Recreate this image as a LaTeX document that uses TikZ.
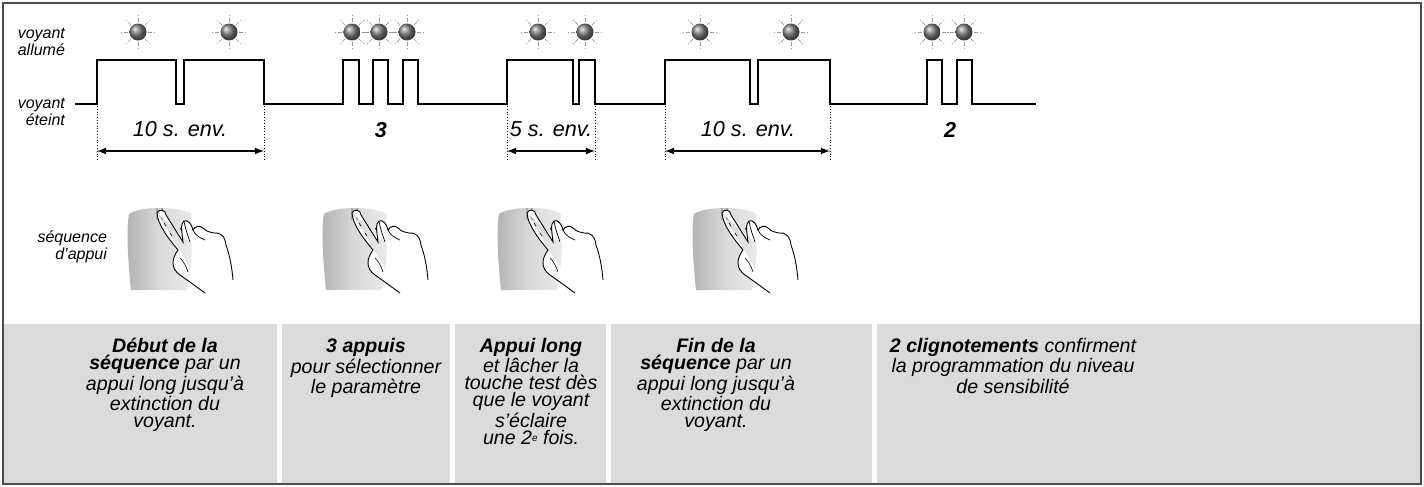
\documentclass[tikz,border=0pt]{standalone}
\usepackage{fontspec}
\setmainfont{Liberation Sans}
\begin{document}
\begin{tikzpicture}[x=0.5pt,y=-0.5pt,
  lbl/.style={font=\itshape\fontsize{8}{8.3}\selectfont, align=right, anchor=east},
  dur/.style={font=\itshape\fontsize{10.8}{11}\selectfont},
  num/.style={font=\bfseries\itshape\fontsize{10.8}{11}\selectfont},
  txt/.style={font=\itshape\fontsize{9.8}{8.5}\selectfont, align=center, anchor=north, inner sep=0pt},
  wave/.style={line width=0.7pt},
  dim/.style={line width=0.6pt, latex-latex, >=latex},
  guide/.style={densely dotted, line width=0.4pt},
  col/.style={fill=black!14, draw=none}]
\useasboundingbox (0,0) rectangle (1424,487);
% frame
\fill[white] (0,0) rectangle (1424,487);
\fill[col] (4,324) rectangle (277,483);
\fill[col] (282,324) rectangle (450,483);
\fill[col] (455,324) rectangle (606,483);
\fill[col] (611,324) rectangle (872,483);
\fill[col] (877,324) rectangle (1420,483);
\draw[black!70, line width=0.7pt] (3,3) rectangle (1421,484);
% labels
\node[lbl] (l1) at (72,42) {voyant\\allumé};
\node[lbl] (l2) at (72,112) {voyant\\éteint};
\node[lbl] (l3) at (114,247) {séquence\\d’appui};
% waveform
\draw[wave] (75,104) -- (97,104) |- (176,60) |- (184,104) |- (264,60) |- (343,104)
  |- (359,60) |- (373,104) |- (388,60) |- (403,104) |- (418,60) |- (507,104)
  |- (573,60) |- (579,104) |- (595,60) |- (665,104) |- (750,60) |- (758,104)
  |- (830,60) |- (927,104) |- (942,60) |- (957,104) |- (972,60) |- (1036,104);
% LEDs
\foreach \x in {138,229,352,379,407,538,585,700,791,932,964}{
  \foreach \a in {0,45,...,315}
    \draw[black!40, dash pattern=on 2pt off 1pt, line width=0.35pt] (\x,32) ++(\a:-10) -- ++(\a:-7);
  \shade[ball color=black!50] (\x,32) circle (8.5);
}
% dimension guides
\foreach \x in {97,264,507,595,665,830}
  \draw[guide] (\x,106) -- (\x,160);
\coordinate (a1) at (97,151); \coordinate (b1) at (264,151);
\coordinate (a2) at (507,151); \coordinate (b2) at (595,151);
\coordinate (a3) at (665,151); \coordinate (b3) at (830,151);
\draw[dim] (a1) -- (b1);
\draw[dim] (a2) -- (b2);
\draw[dim] (a3) -- (b3);
\node[dur] (d1) at (180,129) {10 s. env.};
\node[dur] (d2) at (551,129) {5 s. env.};
\node[dur] (d3) at (748,129) {10 s. env.};
\node[num] (n3) at (381,130) {3};
\node[num] (n2) at (950,130) {2};
% devices with hands
\foreach \d in {0,195,370,565}{
  \begin{scope}[xshift=\d*0.5pt]
    \shade[left color=black!30, right color=black!8, middle color=black!15]
      (131,290) .. controls (128,260) and (126,230) .. (129,214)
      .. controls (140,206) and (180,206) .. (191,214)
      .. controls (193,240) and (192,265) .. (187,290) -- cycle;
    \fill[black!35] (156,208) rectangle (163,220);
    \fill[black!18] (158,208) rectangle (161,220);
    \draw[fill=white, line width=0.45pt]
      (157,213) .. controls (159,208) and (166,210) .. (166,215)
      -- (183,242) .. controls (182,232) and (180,224) .. (184,221)
      .. controls (188,219) and (192,225) .. (193,230)
      .. controls (195,226) and (200,225) .. (203,228)
      .. controls (207,232) and (210,232) .. (214,233)
      .. controls (220,232) and (225,236) .. (226,245)
      .. controls (230,256) and (232,268) .. (233,280);
    \draw[fill=white, line width=0.45pt]
      (157,213) .. controls (158,225) and (168,238) .. (178,250)
      .. controls (172,258) and (170,268) .. (180,275)
      .. controls (190,282) and (198,288) .. (205,293);
    \draw[line width=0.35pt] (184,221) .. controls (185,228) and (188,236) .. (190,242);
    \draw[line width=0.35pt] (193,230) .. controls (195,235) and (200,238) .. (205,240);
    \draw[line width=0.3pt] (164,223) -- (166,226) (170,233) -- (172,236) (180,228) -- (182,231);
    \draw[line width=0.3pt] (180,258) .. controls (184,262) and (186,266) .. (188,272);
  \end{scope}
}
% bottom texts
\node[txt] (t1) at (165,338) {\textbf{Début de la}\\\textbf{séquence} par un\\appui long jusqu’à\\extinction du\\voyant.};
\node[txt] (t2) at (366,338) {\textbf{3 appuis}\\pour sélectionner\\le paramètre};
\node[txt] (t3) at (531,338) {\textbf{Appui long}\\et lâcher la\\touche test dès\\que le voyant\\s'éclaire\\une 2{\fontsize{5}{5}\selectfont\raisebox{0.55ex}{e}} fois.};
\node[txt] (t4) at (716,338) {\textbf{Fin de la}\\\textbf{séquence} par un\\appui long jusqu’à\\extinction du\\voyant.};
\node[txt] (t5) at (1013,338) {\textbf{2 clignotements} confirment\\la programmation du niveau\\de sensibilité};
\end{tikzpicture}
\end{document}
